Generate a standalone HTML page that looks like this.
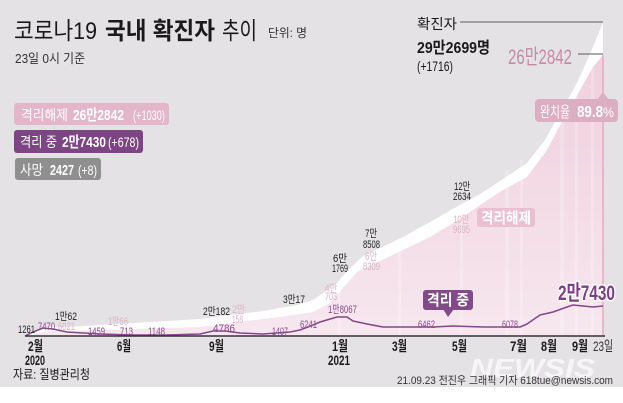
<!DOCTYPE html>
<html><head><meta charset="utf-8"><style>
html,body{margin:0;padding:0;background:#fff;}
svg{display:block;}
text{font-family:"Liberation Sans","Noto Sans CJK KR",sans-serif;}
</style></head><body>
<svg width="623" height="403" viewBox="0 0 623 403" xmlns="http://www.w3.org/2000/svg">
<defs>
<linearGradient id="pg" gradientUnits="userSpaceOnUse" x1="0" y1="50" x2="0" y2="336">
<stop offset="0" stop-color="#f0cfdd"/><stop offset="1" stop-color="#f6e7ee"/>
</linearGradient>
</defs>
<rect x="0" y="0" width="623" height="387" fill="#e4e2e4"/>
<rect x="0" y="387" width="623" height="16" fill="#ffffff"/>

<!-- confirmed (white) area -->
<polygon fill="#ffffff" points="25,336 33,331 40,328 47,327 67,327 100,325 133,323 167,321 200,319 230,315 263,311 297,305 313,300 323,293 337,283 347,271 363,256 380,248 403,237 430,222 460,205 480,194 503,179 527,163 545,140 560,113 577,83 593,47 603,22 603,336"/>
<!-- released (pink) area -->
<polygon fill="url(#pg)" points="25,336 40,333 50,331 67,331 100,330 133,329 167,328 200,327 247,321 280,317 313,312 330,303 343,288 357,272 380,261 403,250 430,237 460,219 480,205 503,190 527,177 547,150 563,120 580,90 593,67 603,55 603,336"/>
<!-- subtle vertical stripes -->
<g fill="#ffffff" opacity="0.22">
<rect x="505" y="170" width="4" height="166"/>
<rect x="520" y="160" width="3" height="176"/>
<rect x="560" y="110" width="4" height="226"/>
<rect x="575" y="85" width="3" height="251"/>
<rect x="591" y="60" width="3" height="276"/>
<rect x="460" y="210" width="3" height="126"/>
<rect x="398" y="245" width="3" height="91"/>
<rect x="338" y="290" width="3" height="46"/>
</g>
<line x1="603" y1="55" x2="603" y2="336" stroke="#e4aac2" stroke-width="1.5"/>

<!-- isolation (purple) line -->
<polyline fill="none" stroke="#86468a" stroke-width="1.5" stroke-linejoin="round" points="25,336 33,332 43,328 53,329 67,332 100,334 133,335 167,335 200,334 213,331 225,331 240,333 263,334 290,332 300,330 313,325 320,322 337,317 347,317 353,321 367,324 383,327 400,327 433,327 453,326 483,327 520,327 527,324 540,315 553,312 567,307 573,305 583,306 593,307 603,306"/>

<!-- axis -->
<line x1="25" y1="336" x2="605" y2="336" stroke="#333" stroke-width="1.5"/>

<!-- title -->
<text x="14" y="39" font-size="24" textLength="83" lengthAdjust="spacingAndGlyphs" fill="#1a1a1a">코로나19</text>
<text x="105" y="39" font-size="24" font-weight="bold" textLength="110" lengthAdjust="spacingAndGlyphs" fill="#1a1a1a">국내 확진자</text>
<text x="222" y="39" font-size="24" textLength="35" lengthAdjust="spacingAndGlyphs" fill="#1a1a1a">추이</text>
<text x="268" y="37" font-size="12" textLength="39" lengthAdjust="spacingAndGlyphs" fill="#333">단위: 명</text>
<text x="15" y="63" font-size="13" textLength="70" lengthAdjust="spacingAndGlyphs" fill="#333">23일 0시 기준</text>

<!-- legend boxes -->
<rect x="14" y="103" width="155" height="22" rx="3" fill="#e3b6c9"/>
<text x="21" y="120" font-size="14" textLength="47" lengthAdjust="spacingAndGlyphs" fill="#fff">격리해제</text>
<text x="73" y="120" font-size="15" font-weight="bold" textLength="51" lengthAdjust="spacingAndGlyphs" fill="#fff">26만2842</text>
<text x="133" y="120" font-size="14" textLength="32" lengthAdjust="spacingAndGlyphs" fill="#fff">(+1030)</text>

<rect x="14" y="130" width="129" height="23" rx="3" fill="#7e4585"/>
<text x="20" y="147" font-size="14" textLength="37" lengthAdjust="spacingAndGlyphs" fill="#fff">격리 중</text>
<text x="62" y="147" font-size="15" font-weight="bold" textLength="44" lengthAdjust="spacingAndGlyphs" fill="#fff">2만7430</text>
<text x="108" y="147" font-size="14" textLength="31" lengthAdjust="spacingAndGlyphs" fill="#fff">(+678)</text>

<rect x="15" y="158" width="86" height="22" rx="3" fill="#8f8f8f"/>
<text x="20" y="175" font-size="14" textLength="23" lengthAdjust="spacingAndGlyphs" fill="#fff">사망</text>
<text x="50" y="175" font-size="15" font-weight="bold" textLength="24" lengthAdjust="spacingAndGlyphs" fill="#fff">2427</text>
<text x="78" y="175" font-size="14" textLength="19" lengthAdjust="spacingAndGlyphs" fill="#fff">(+8)</text>

<!-- right annotations -->
<text x="417" y="29" font-size="14" textLength="40" lengthAdjust="spacingAndGlyphs" fill="#1a1a1a">확진자</text>
<line x1="460" y1="22" x2="603" y2="22" stroke="#8a8a8a" stroke-width="1.5"/>
<text x="417" y="53" font-size="16" font-weight="bold" textLength="73" lengthAdjust="spacingAndGlyphs" fill="#1a1a1a">29만2699명</text>
<text x="417" y="71" font-size="14" textLength="36" lengthAdjust="spacingAndGlyphs" fill="#1a1a1a">(+1716)</text>
<text x="508" y="64" font-size="21" textLength="64" lengthAdjust="spacingAndGlyphs" fill="#c68aa4">26만2842</text>
<line x1="578" y1="54" x2="603" y2="54" stroke="#777" stroke-width="1.2"/>

<polygon points="597,100 609,100 603,92" fill="#dcaec1"/>
<rect x="535" y="99" width="83" height="23" rx="4" fill="#dcaec1"/>
<text x="540" y="117" font-size="15" textLength="30" lengthAdjust="spacingAndGlyphs" fill="#fff">완치율</text>
<text x="577" y="117" font-size="16" font-weight="bold" textLength="26" lengthAdjust="spacingAndGlyphs" fill="#fff">89.8</text>
<text x="603" y="117" font-size="14" textLength="11" lengthAdjust="spacingAndGlyphs" fill="#fff">%</text>

<rect x="477" y="208" width="58" height="19" rx="3" fill="#eac0d1"/>
<text x="481" y="223" font-size="15" font-weight="bold" textLength="50" lengthAdjust="spacingAndGlyphs" fill="#fff">격리해제</text>

<rect x="423" y="290" width="50" height="20" rx="3" fill="#824a88"/>
<polygon points="443,309 454,309 448,317" fill="#824a88"/>
<text x="427" y="305" font-size="15" font-weight="bold" textLength="42" lengthAdjust="spacingAndGlyphs" fill="#fff">격리 중</text>

<text x="558" y="300" font-size="21" font-weight="bold" textLength="57" lengthAdjust="spacingAndGlyphs" fill="#7b3f82" stroke="#fff" stroke-width="3" paint-order="stroke" stroke-linejoin="round">2만7430</text>

<!-- black value labels -->
<g font-size="11" fill="#222">
<text x="18" y="333" textLength="17" lengthAdjust="spacingAndGlyphs">1261</text>
<text x="55" y="320" textLength="22" lengthAdjust="spacingAndGlyphs">1만62</text>
<text x="203" y="315" textLength="27" lengthAdjust="spacingAndGlyphs">2만182</text>
<text x="283" y="303" textLength="22" lengthAdjust="spacingAndGlyphs">3만17</text>
<text x="333" y="262" textLength="14" lengthAdjust="spacingAndGlyphs">6만</text>
<text x="332" y="272" textLength="16" lengthAdjust="spacingAndGlyphs">1769</text>
<text x="365" y="237" textLength="12" lengthAdjust="spacingAndGlyphs">7만</text>
<text x="363" y="248" textLength="17" lengthAdjust="spacingAndGlyphs">8508</text>
<text x="454" y="190" textLength="16" lengthAdjust="spacingAndGlyphs">12만</text>
<text x="453" y="200" textLength="18" lengthAdjust="spacingAndGlyphs">2634</text>
</g>
<!-- light pink value labels -->
<g font-size="11" fill="#ddb2c5">
<text x="58" y="330" textLength="17" lengthAdjust="spacingAndGlyphs">6021</text>
<text x="108" y="325" textLength="20" lengthAdjust="spacingAndGlyphs">1만66</text>
<text x="232" y="313" textLength="13" lengthAdjust="spacingAndGlyphs">2만</text>
<text x="232" y="323" textLength="11" lengthAdjust="spacingAndGlyphs">158</text>
<text x="325" y="292" textLength="12" lengthAdjust="spacingAndGlyphs">4만</text>
<text x="325" y="300" textLength="12" lengthAdjust="spacingAndGlyphs">703</text>
<text x="365" y="260" textLength="12" lengthAdjust="spacingAndGlyphs">6만</text>
<text x="363" y="270" textLength="17" lengthAdjust="spacingAndGlyphs">8309</text>
<text x="453" y="223" textLength="16" lengthAdjust="spacingAndGlyphs">10만</text>
<text x="453" y="233" textLength="17" lengthAdjust="spacingAndGlyphs">9695</text>
</g>
<!-- purple value labels -->
<g font-size="11" fill="#8b4a8e">
<text x="38" y="330" textLength="17" lengthAdjust="spacingAndGlyphs">7470</text>
<text x="88" y="335" textLength="17" lengthAdjust="spacingAndGlyphs">1459</text>
<text x="120" y="335" textLength="13" lengthAdjust="spacingAndGlyphs">713</text>
<text x="148" y="335" textLength="17" lengthAdjust="spacingAndGlyphs">1148</text>
<text x="213" y="332" textLength="22" lengthAdjust="spacingAndGlyphs">4786</text>
<text x="272" y="335" textLength="16" lengthAdjust="spacingAndGlyphs">1407</text>
<text x="300" y="328" textLength="17" lengthAdjust="spacingAndGlyphs">6241</text>
<text x="328" y="313" textLength="29" lengthAdjust="spacingAndGlyphs">1만8067</text>
<text x="418" y="328" textLength="17" lengthAdjust="spacingAndGlyphs">6462</text>
<text x="502" y="328" textLength="16" lengthAdjust="spacingAndGlyphs">6078</text>
</g>

<!-- month labels -->
<g font-size="14" font-weight="bold" fill="#1a1a1a">
<text x="28" y="351" textLength="15" lengthAdjust="spacingAndGlyphs">2월</text>
<text x="117" y="351" textLength="14" lengthAdjust="spacingAndGlyphs">6월</text>
<text x="209" y="351" textLength="15" lengthAdjust="spacingAndGlyphs">9월</text>
<text x="332" y="351" textLength="16" lengthAdjust="spacingAndGlyphs">1월</text>
<text x="392" y="351" textLength="15" lengthAdjust="spacingAndGlyphs">3월</text>
<text x="452" y="351" textLength="15" lengthAdjust="spacingAndGlyphs">5월</text>
<text x="510" y="351" textLength="17" lengthAdjust="spacingAndGlyphs">7월</text>
<text x="541" y="351" textLength="16" lengthAdjust="spacingAndGlyphs">8월</text>
<text x="572" y="351" textLength="16" lengthAdjust="spacingAndGlyphs">9월</text>
<text x="25" y="365" textLength="20" lengthAdjust="spacingAndGlyphs">2020</text>
<text x="328" y="365" textLength="22" lengthAdjust="spacingAndGlyphs">2021</text>
</g>
<text x="593" y="351" font-size="14" textLength="20" lengthAdjust="spacingAndGlyphs" fill="#333">23일</text>

<!-- footer -->
<text x="13" y="379" font-size="13" textLength="77" lengthAdjust="spacingAndGlyphs" fill="#1a1a1a">자료: 질병관리청</text>
<text x="470" y="377" font-size="26" font-weight="bold" font-style="italic" textLength="125" lengthAdjust="spacingAndGlyphs" fill="#ffffff" opacity="0.7">NEWSIS</text>
<text x="397" y="384" font-size="11" textLength="216" lengthAdjust="spacingAndGlyphs" fill="#333">21.09.23 전진우 그래픽 기자 618tue@newsis.com</text>
</svg>
</body></html>
